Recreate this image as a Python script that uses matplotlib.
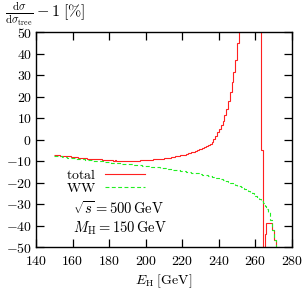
import numpy as np
import matplotlib
matplotlib.use("Agg")
import matplotlib.pyplot as plt

plt.rcParams['mathtext.fontset'] = 'cm'
plt.rcParams['font.family'] = 'serif'
plt.rcParams['font.serif'] = ['cmr10', 'DejaVu Serif']
plt.rcParams['axes.formatter.use_mathtext'] = True

# bin lower edges in GeV (1 GeV bins)
E_start = 150
total = [
    -7.2, -7.3, -7.3, -7.5, -7.5, -7.6, -7.7, -7.9, -7.9, -8.1,
    -8.1, -8.3, -8.3, -8.5, -8.5, -8.6, -8.8, -8.8, -8.9, -9.0,
    -9.0, -9.2, -9.1, -9.3, -9.3, -9.3, -9.5, -9.4, -9.6, -9.6,
    -9.6, -9.7, -9.8, -9.7, -9.8, -9.9, -9.8, -9.9, -10.1, -9.9,
    -9.9, -10.0, -9.9, -9.8, -9.9, -9.8, -9.8, -9.7, -9.7, -9.6,
    -9.6, -9.6, -9.4, -9.4, -9.3, -9.2, -9.2, -9.1, -8.9, -8.9,
    -8.8, -8.6, -8.5, -8.4, -8.2, -8.1, -7.9, -7.8, -7.6, -7.4,
    -7.2, -7.0, -6.8, -6.5, -6.3, -6.0, -5.7, -5.4, -5.0, -4.6,
    -4.2, -3.8, -3.3, -2.9, -2.4, -1.9, -1.2, 0.2, 1.8, 3.3,
    5.0, 6.8, 8.8, 11.2, 14.0, 18.0, 22.2, 26.9, 31.5, 37.0,
    44.7, 60.0, 60.0, 60.0, 60.0, 60.0, 60.0, 60.0, 60.0, 60.0,
    60.0, 60.0, 60.0, -5.0, -80.0, -44.0, -39.0, -39.0, -39.0, -42.0,
    -46.7, -60.0,
]
ww = [
    -7.5, -7.6, -7.8, -7.9, -8.0, -8.1, -8.2, -8.4, -8.5, -8.6,
    -8.7, -8.8, -8.9, -9.0, -9.1, -9.2, -9.3, -9.4, -9.5, -9.6,
    -9.7, -9.8, -9.9, -10.0, -10.1, -10.2, -10.2, -10.3, -10.4, -10.5,
    -10.6, -10.7, -10.8, -10.8, -10.9, -11.0, -11.1, -11.2, -11.2, -11.3,
    -11.4, -11.5, -11.6, -11.7, -11.8, -11.8, -11.9, -12.0, -12.1, -12.2,
    -12.3, -12.4, -12.5, -12.6, -12.7, -12.8, -12.9, -13.0, -13.1, -13.3,
    -13.4, -13.5, -13.6, -13.7, -13.8, -14.0, -14.1, -14.2, -14.4, -14.5,
    -14.7, -14.8, -15.0, -15.1, -15.2, -15.4, -15.5, -15.7, -15.8, -16.0,
    -16.1, -16.3, -16.5, -16.7, -16.9, -17.1, -17.3, -17.5, -17.7, -18.0,
    -18.2, -18.5, -18.8, -19.1, -19.5, -19.8, -20.1, -20.4, -20.7, -21.0,
    -21.4, -21.8, -22.2, -22.6, -23.0, -23.4, -23.8, -24.2, -24.7, -25.4,
    -26.2, -26.9, -27.7, -28.6, -29.6, -30.9, -32.2, -33.5, -37.5, -42.0,
    -46.7, -60.0,
]
xticks = [140, 160, 180, 200, 220, 240, 260, 280]
yticks = [-50, -40, -30, -20, -10, 0, 10, 20, 30, 40, 50]

W, H = 303, 292
FS = 10
fig = plt.figure(figsize=(W / 100, H / 100), dpi=100)
ax = fig.add_axes([36 / W, 1 - 247 / H, (292 - 36) / W, (247 - 32) / H])

edges_t = np.arange(E_start, E_start + len(total) + 1)
edges_w = np.arange(E_start, E_start + len(ww) + 1)
ax.stairs(total, edges_t, baseline=None, color='#ff2020', lw=0.8, label=r'$\mathrm{total}$')
ax.stairs(ww, edges_w, baseline=None, color='#22ee22', lw=0.8,
          linestyle=(0, (3.5, 2.2)), label=r'$\mathrm{WW}$')

ax.set_xlim(140, 280)
ax.set_ylim(-50, 50)
ax.set_xticks(xticks)
ax.set_yticks(yticks)
ax.set_xticklabels([r'$%d$' % v for v in xticks])
ax.set_yticklabels([r'$%d$' % v for v in yticks])
ax.tick_params(direction='in', length=5.5, width=0.9, top=True, right=True,
               labelsize=FS, colors='black')
ax.tick_params(axis='x', pad=6)
ax.tick_params(axis='y', pad=3)
for s in ax.spines.values():
    s.set_linewidth(1.0)

ax.set_xlabel(r'$E_{\mathrm{H}}\;[\mathrm{GeV}]$', fontsize=FS, labelpad=3)

fig.text(5 / W, 1 - 14 / H,
         r'$\frac{\mathrm{d}\sigma}{\mathrm{d}\sigma_{\mathrm{tree}}} - 1\;[\%]$',
         fontsize=11.5, ha='left', va='center')

ax.legend(loc='upper left', bbox_to_anchor=(66 / W, 1 - 168 / H),
          bbox_transform=fig.transFigure, markerfirst=False, frameon=False,
          fontsize=10, handlelength=2.9, handletextpad=0.6, labelspacing=0.0,
          borderpad=0, borderaxespad=0)

fig.text(73 / W, 1 - 208 / H, r'$\sqrt{s} = 500\,\mathrm{GeV}$',
         fontsize=10.5, ha='left', va='center')
fig.text(73 / W, 1 - 228 / H, r'$M_{\mathrm{H}} = 150\,\mathrm{GeV}$',
         fontsize=10.5, ha='left', va='center')

fig.savefig('out.png', dpi=100)
